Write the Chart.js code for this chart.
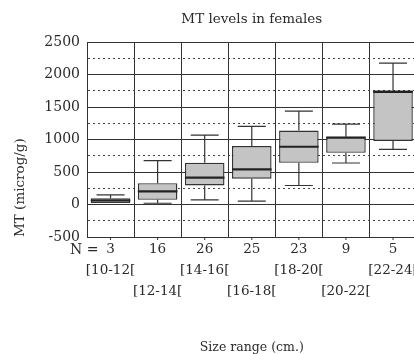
<!DOCTYPE html>
<html>
<head>
<meta charset="utf-8">
<script src="https://cdn.jsdelivr.net/npm/chart.js@4/dist/chart.umd.min.js"></script>
<style>
  html, body { margin: 0; padding: 0; background: #fff; overflow: hidden; width: 414px; height: 354px; }
  #clip { width: 414px; height: 354px; overflow: hidden; position: relative; }
  #chart { position: absolute; left: 0; top: 0; }
</style>
</head>
<body>
<div id="clip"><canvas id="chart" width="420" height="354"></canvas></div>
<script>
// size classes and sample counts
const sizeRanges = ["[10-12[", "[12-14[", "[14-16[", "[16-18[", "[18-20[", "[20-22[", "[22-24["];
const counts = [3, 16, 26, 25, 23, 9, 5];

// box plot values, MT (microg/g)
const lowWhisker = [25, 20, 72, 51, 293, 640, 849];
const q1 = [25, 72, 293, 397, 643, 797, 977];
const medians = [62, 203, 415, 540, 890, 1030, 1735];
const q3 = [97, 329, 643, 900, 1140, 1045, 1755];
const highWhisker = [150, 677, 1068, 1204, 1438, 1239, 2178];

const yTicks = [-500, 0, 500, 1000, 1500, 2000, 2500];

const ink = "#2a2a2a";
const serif = "'DejaVu Serif', serif";

let boxes = sizeRanges.map((r, i) => [q1[i], q3[i]]);

// whiskers, medians and the little "N =" label
const boxExtras = {
  id: "boxExtras",
  afterDatasetsDraw(chart) {
    const ctx = chart.ctx;
    const x = chart.scales.x, y = chart.scales.y;
    const bars = chart.getDatasetMeta(0).data;
    ctx.save();
    for (let i = 0; i < sizeRanges.length; i++) {
      const cx = x.getPixelForValue(i);
      const half = bars[i].width / 2;
      const cap = 14;
      ctx.strokeStyle = "#333";
      ctx.lineWidth = 1.2;
      ctx.beginPath();
      ctx.moveTo(cx, y.getPixelForValue(q3[i]));
      ctx.lineTo(cx, y.getPixelForValue(highWhisker[i]));
      ctx.moveTo(cx - cap, y.getPixelForValue(highWhisker[i]));
      ctx.lineTo(cx + cap, y.getPixelForValue(highWhisker[i]));
      if (lowWhisker[i] < q1[i]) {
        ctx.moveTo(cx, y.getPixelForValue(q1[i]));
        ctx.lineTo(cx, y.getPixelForValue(lowWhisker[i]));
        ctx.moveTo(cx - cap, y.getPixelForValue(lowWhisker[i]));
        ctx.lineTo(cx + cap, y.getPixelForValue(lowWhisker[i]));
      }
      ctx.stroke();
      // median
      ctx.lineWidth = 2.2;
      ctx.strokeStyle = "#222";
      ctx.beginPath();
      ctx.moveTo(cx - half, y.getPixelForValue(medians[i]));
      ctx.lineTo(cx + half, y.getPixelForValue(medians[i]));
      ctx.stroke();
      // small tick under the axis
      ctx.strokeStyle = "#333";
      ctx.lineWidth = 1;
      ctx.beginPath();
      ctx.moveTo(cx, y.bottom);
      ctx.lineTo(cx, y.bottom + 3);
      ctx.stroke();
    }
    ctx.fillStyle = ink;
    ctx.font = "14px " + serif;
    ctx.textAlign = "right";
    ctx.textBaseline = "middle";
    ctx.fillText("N =", x.getPixelForValue(0) - 12, y.bottom + 13);
    ctx.restore();
  }
};

new Chart(document.getElementById("chart"), {
  type: "bar",
  data: {
    labels: sizeRanges,
    datasets: [{
      data: boxes,
      backgroundColor: "#c4c4c4",
      borderColor: "#333",
      borderWidth: 1.4,
      borderSkipped: false,
      categoryPercentage: 1,
      barPercentage: 0.84
    }]
  },
  options: {
    responsive: false,
    animation: false,
    // the canvas is wider than the window: the original is cut off on the right
    layout: { padding: { left: 0, right: 2, top: 0, bottom: 0 } },
    plugins: {
      legend: { display: false },
      tooltip: { enabled: false },
      title: {
        display: true,
        fullSize: false,
        text: "MT levels in females",
        color: ink,
        font: { family: serif, size: 13.5, weight: "normal" },
        padding: { top: 11, bottom: 15 }
      }
    },
    scales: {
      x: {
        grid: {
          // the closing line on the right is outside the original picture
          color: (c) => c.tick ? "#333" : "rgba(0,0,0,0)",
          drawTicks: false,
          offset: true
        },
        border: { color: "#333" },
        ticks: {
          color: ink,
          font: { family: serif, size: 13.5, lineHeight: 1.55 },
          padding: 2,
          maxRotation: 0,
          autoSkip: false,
          callback: (v, i) => i % 2 === 0
            ? [String(counts[i]), sizeRanges[i], ""]
            : [String(counts[i]), "", sizeRanges[i]]
        },
        title: {
          display: true,
          text: "Size range (cm.)",
          color: ink,
          font: { family: serif, size: 12.5, lineHeight: 1 },
          padding: 0
        },
        afterFit: (s) => { s.height = 117; }
      },
      y: {
        min: -500,
        max: 2500,
        grid: {
          color: (c) => c.tick && c.tick.value % 500 !== 0 ? "#444" : "#333",
          drawTicks: false
        },
        border: {
          color: "#333",
          dash: (c) => c.tick && c.tick.value % 500 !== 0 ? [2, 3] : []
        },
        ticks: {
          stepSize: 250,
          maxTicksLimit: 20,
          autoSkip: false,
          color: ink,
          font: { family: serif, size: 14 },
          padding: 7,
          callback: (v) => yTicks.includes(v) ? String(v) : ""
        },
        title: {
          display: true,
          text: "MT (microg/g)",
          color: ink,
          align: "start",
          font: { family: serif, size: 13.5 },
          padding: { top: 12, bottom: 0 }
        },
        afterFit: (s) => { s.width = 87; }
      }
    }
  },
  plugins: [boxExtras]
});
</script>
</body>
</html>
